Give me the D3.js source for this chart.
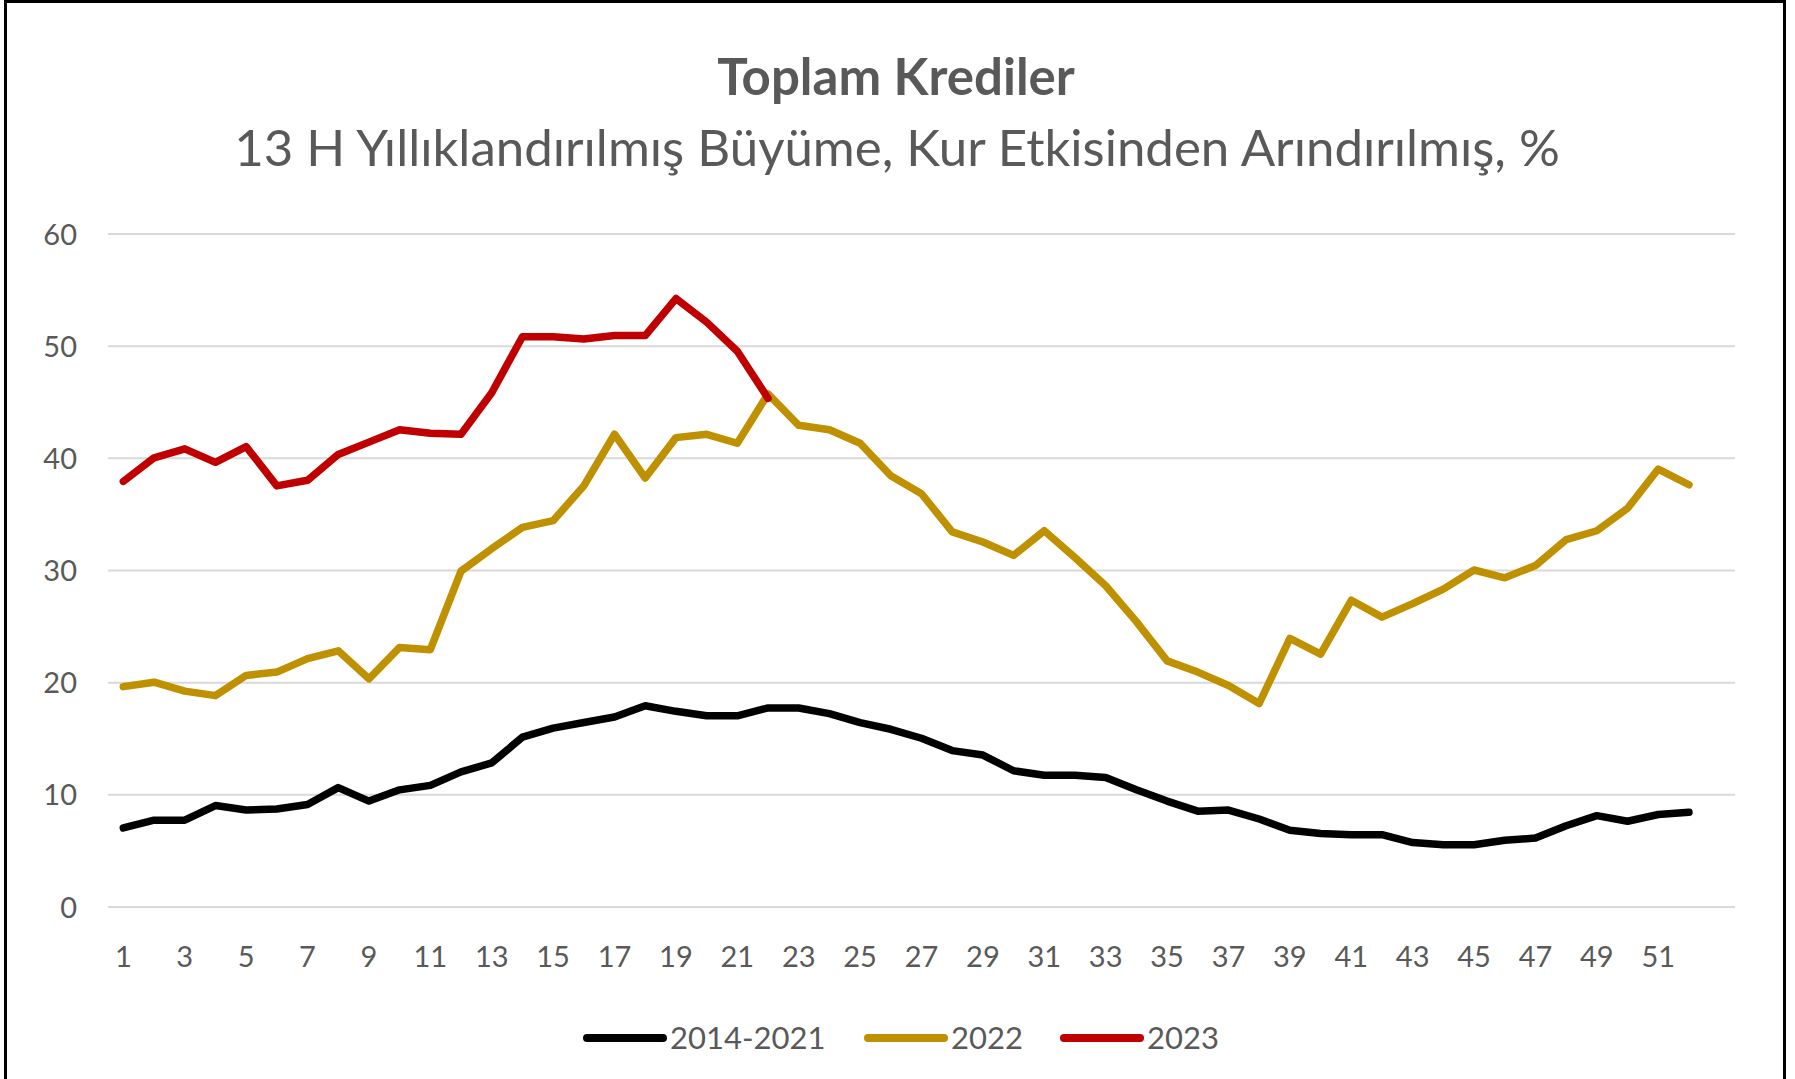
<!DOCTYPE html>
<html>
<head>
<meta charset="utf-8">
<script src="https://cdn.jsdelivr.net/npm/d3@7"></script>
<style>
  body { margin: 0; background: #fff; }
  svg text { font-family: Lato, "Open Sans", sans-serif; fill: #595959; }
</style>
</head>
<body>
<svg id="chart" width="1795" height="1079"></svg>
<script>
// weeks shown on the x axis (53 slots, last one empty)
const weeks = d3.range(1, 54)
const yTicks = [0, 10, 20, 30, 40, 50, 60]

// 13 week annualised growth, FX adjusted, %
const avg2014_2021 = [7.0, 7.7, 7.7, 9.0, 8.6, 8.7, 9.1, 10.6, 9.4, 10.4,
  10.8, 12.0, 12.8, 15.1, 15.9, 16.4, 16.9, 17.9, 17.4, 17.0,
  17.0, 17.7, 17.7, 17.2, 16.4, 15.8, 15.0, 13.9, 13.5, 12.1,
  11.7, 11.7, 11.5, 10.4, 9.4, 8.5, 8.6, 7.8, 6.8, 6.5,
  6.4, 6.4, 5.7, 5.5, 5.5, 5.9, 6.1, 7.2, 8.1, 7.6,
  8.2, 8.4]
const y2022 = [19.6, 20.0, 19.2, 18.8, 20.6, 20.9, 22.1, 22.8, 20.3, 23.1,
  22.9, 29.9, 31.9, 33.8, 34.4, 37.5, 42.1, 38.2, 41.8, 42.1,
  41.3, 45.7, 42.9, 42.5, 41.3, 38.4, 36.8, 33.4, 32.5, 31.3,
  33.5, 31.1, 28.6, 25.4, 21.9, 20.9, 19.7, 18.1, 23.9, 22.5,
  27.3, 25.8, 27.0, 28.3, 30.0, 29.3, 30.4, 32.7, 33.5, 35.5,
  39.0, 37.6]
const y2023 = [37.9, 40.0, 40.8, 39.6, 41.0, 37.5, 38.0, 40.3, 41.4, 42.5,
  42.2, 42.1, 45.8, 50.8, 50.8, 50.6, 50.9, 50.9, 54.2, 52.1,
  49.5, 45.3]

const seriesNames = ['2014-2021', '2022', '2023']
const seriesColors = ['#000000', '#bf9000', '#c00000']

const svg = d3.select('#chart')

// frame
svg.append('rect')
  .attr('x', 5.5).attr('y', 1.5)
  .attr('width', 1779).attr('height', 1100)
  .attr('fill', 'none').attr('stroke', '#000').attr('stroke-width', 3)

// titles
svg.append('text')
  .attr('x', 896).attr('y', 95)
  .attr('text-anchor', 'middle')
  .style('font-size', '51px').style('font-weight', 'bold')
  .text('Toplam Krediler')

svg.append('text')
  .attr('x', 897).attr('y', 166)
  .attr('text-anchor', 'middle')
  .style('font-size', '51px')
  .text('13 H Yıllıklandırılmış Büyüme, Kur Etkisinden Arındırılmış, %')

const xScale = d3.scaleBand().domain(weeks).range([108, 1735])
const xPos = w => xScale(w) + xScale.bandwidth() / 2
const yScale = d3.scaleLinear().domain([0, 60]).range([906.5, 233.5])

// horizontal grid
svg.append('g')
  .attr('transform', 'translate(108,0)')
  .call(d3.axisLeft(yScale).tickValues(yTicks).tickSize(-(1735 - 108)).tickFormat(''))
  .call(g => g.select('.domain').remove())
  .call(g => g.selectAll('line').attr('stroke', '#d9d9d9').attr('stroke-width', 2))

// y labels
svg.append('g')
  .selectAll('text')
  .data(yTicks)
  .enter()
  .append('text')
  .attr('x', 77)
  .attr('y', d => yScale(d) + 11)
  .attr('text-anchor', 'end')
  .style('font-size', '29px')
  .text(d => d)

// x labels (odd weeks)
svg.append('g')
  .selectAll('text')
  .data(weeks.filter(w => w % 2 === 1 && w <= 51))
  .enter()
  .append('text')
  .attr('x', d => xPos(d))
  .attr('y', 967)
  .attr('text-anchor', 'middle')
  .style('font-size', '29px')
  .text(d => d)

const line = d3.line()
  .x((d, i) => xPos(i + 1))
  .y(d => yScale(d))

const allSeries = [avg2014_2021, y2022, y2023]
svg.append('g')
  .selectAll('path')
  .data(allSeries)
  .enter()
  .append('path')
  .attr('d', d => line(d))
  .attr('fill', 'none')
  .attr('stroke', (d, i) => seriesColors[i])
  .attr('stroke-width', 7.5)
  .attr('stroke-linejoin', 'round')
  .attr('stroke-linecap', 'round')

// legend
const legendX = [587, 868, 1064]
const legend = svg.append('g')
  .selectAll('g')
  .data(seriesNames)
  .enter()
  .append('g')
  .attr('transform', (d, i) => 'translate(' + legendX[i] + ',1038)')

legend.append('line')
  .attr('x1', 0).attr('x2', 76)
  .attr('y1', 0).attr('y2', 0)
  .attr('stroke', (d, i) => seriesColors[i])
  .attr('stroke-width', 8)
  .attr('stroke-linecap', 'round')

legend.append('text')
  .attr('x', 83)
  .attr('y', 11)
  .style('font-size', '31px')
  .text(d => d)
</script>
</body>
</html>
